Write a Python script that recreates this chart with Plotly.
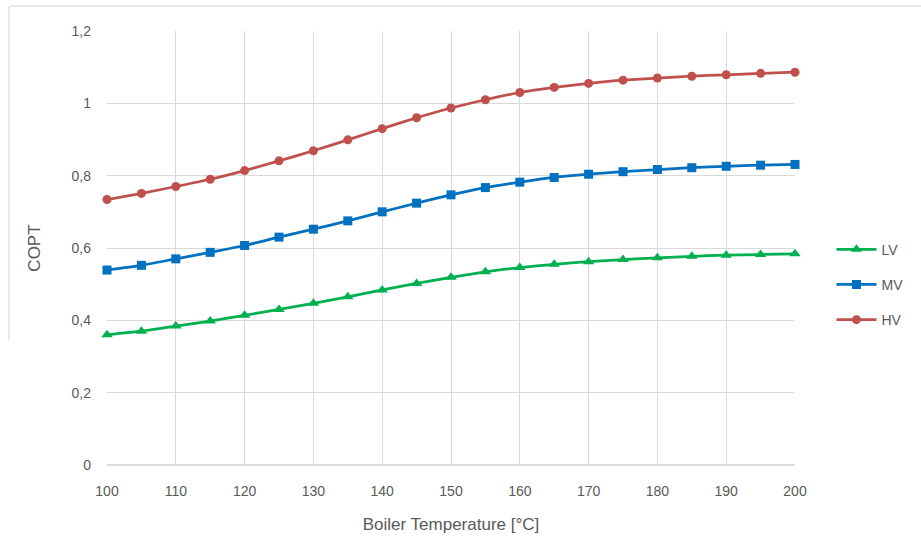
import plotly.graph_objects as go

# Boiler temperature [°C]
temperature = [100, 105, 110, 115, 120, 125, 130, 135, 140, 145, 150,
               155, 160, 165, 170, 175, 180, 185, 190, 195, 200]

# COPT per configuration
lv = [0.360, 0.370, 0.384, 0.398, 0.414, 0.430, 0.447, 0.465, 0.484, 0.502, 0.519,
      0.534, 0.546, 0.555, 0.562, 0.568, 0.573, 0.577, 0.580, 0.582, 0.584]
mv = [0.539, 0.552, 0.570, 0.588, 0.607, 0.630, 0.652, 0.675, 0.700, 0.724, 0.747,
      0.767, 0.782, 0.795, 0.804, 0.811, 0.817, 0.822, 0.826, 0.829, 0.831]
hv = [0.734, 0.751, 0.770, 0.790, 0.814, 0.841, 0.869, 0.899, 0.930, 0.960, 0.987,
      1.010, 1.030, 1.044, 1.055, 1.064, 1.070, 1.075, 1.079, 1.083, 1.086]

y_ticks = [0, 0.2, 0.4, 0.6, 0.8, 1.0, 1.2]
x_ticks = [100, 110, 120, 130, 140, 150, 160, 170, 180, 190, 200]

series = [
    ("LV", lv, "#00B050", "triangle-up", 10),
    ("MV", mv, "#0070C0", "square", 9),
    ("HV", hv, "#C0504D", "circle", 9),
]

fig = go.Figure()
for name, vals, color, symbol, msize in series:
    fig.add_trace(go.Scatter(
        x=temperature, y=vals, name=name, mode="lines+markers",
        line=dict(color=color, width=2.75, shape="spline", smoothing=0.6),
        marker=dict(color=color, symbol=symbol, size=msize),
        legendgroup=name, cliponaxis=False,
    ))

grid = "#d9d9d9"
tick_font = dict(family="Liberation Sans, Arial, sans-serif", size=14, color="#595959")
title_font = dict(family="Liberation Sans, Arial, sans-serif", size=17, color="#595959")

fig.update_layout(
    width=921, height=554,
    margin=dict(l=107, r=126, t=31, b=89),
    paper_bgcolor="white", plot_bgcolor="white",
    separators=", ",
    showlegend=True,
    legend=dict(
        x=1.053, y=0.533, xanchor="left", yanchor="top",
        font=dict(family="Liberation Sans, Arial, sans-serif", size=14, color="#595959"),
        tracegroupgap=14, itemwidth=40, bgcolor="rgba(0,0,0,0)",
    ),
    xaxis=dict(
        range=[100, 200], tickvals=x_ticks, showgrid=True, gridcolor=grid, gridwidth=1,
        zeroline=False, showline=False, tickfont=tick_font, ticks="",
        ticklabelstandoff=16,
        title=dict(text="Boiler Temperature [°C]", font=title_font, standoff=20),
    ),
    yaxis=dict(
        range=[0, 1.2], tickvals=y_ticks, showgrid=True, gridcolor=grid, gridwidth=1,
        zeroline=False, showline=False, tickfont=tick_font, ticks="",
        ticklabelstandoff=15,
        title=dict(text="COPT", font=title_font, standoff=26),
    ),
    shapes=[
        # bottom axis line
        dict(type="line", xref="paper", yref="paper", x0=0, x1=1, y0=0, y1=0,
             line=dict(color="#d0d0d0", width=1.5)),
        # outer chart frame (top and left edges)
        dict(type="line", xref="paper", yref="paper",
             x0=-97 / 688, x1=814 / 688, y0=459 / 434, y1=459 / 434,
             line=dict(color="#e3e3e3", width=1.5)),
        dict(type="line", xref="paper", yref="paper",
             x0=-98 / 688, x1=-98 / 688, y0=459 / 434, y1=125 / 434,
             line=dict(color="#e3e3e3", width=1.5)),
    ],
)

fig.write_html("out.html")
